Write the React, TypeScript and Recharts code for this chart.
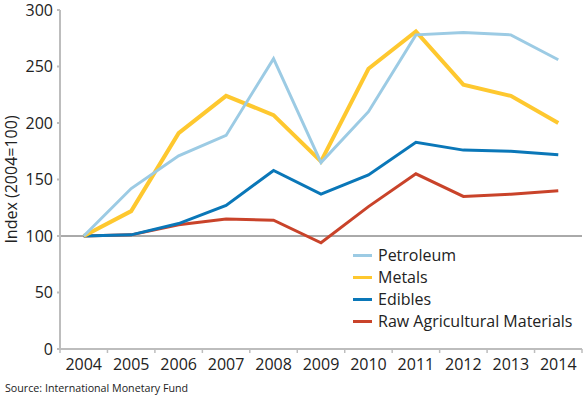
import { LineChart, Line, XAxis, YAxis, ReferenceLine, Legend } from "recharts";

const years = ["2004", "2005", "2006", "2007", "2008", "2009", "2010", "2011", "2012", "2013", "2014"];
const petroleum = [100, 142, 171, 189, 257, 165, 210, 278, 280, 278, 256];
const metals = [100, 122, 191, 224, 207, 166, 248, 281, 234, 224, 200];
const edibles = [100, 101, 111, 127, 158, 137, 154, 183, 176, 175, 172];
const rawAg = [100, 101, 110, 115, 114, 94, 126, 155, 135, 137, 140];
const yTicks = [0, 50, 100, 150, 200, 250, 300];

const series = [
  { key: "petroleum", name: "Petroleum", color: "#9ccbe4" },
  { key: "metals", name: "Metals", color: "#fec82f" },
  { key: "edibles", name: "Edibles", color: "#0a77b8" },
  { key: "rawAg", name: "Raw Agricultural Materials", color: "#c9432a" },
];

const data = years.map((year, i) => ({
  year,
  petroleum: petroleum[i],
  metals: metals[i],
  edibles: edibles[i],
  rawAg: rawAg[i],
}));

const FONT = "'Open Sans', Lato, sans-serif";
const AXIS = "#bdbdbd";

function YearTick(props: any) {
  const { x, y, payload, index, visibleTicksCount, width } = props;
  const half = payload?.offset || width / visibleTicksCount / 2;
  return (
    <g>
      <line x1={x - half} x2={x - half} y1={y - 8} y2={y - 4} stroke={AXIS} strokeWidth={1.5} />
      {index === visibleTicksCount - 1 && (
        <line x1={x + half} x2={x + half} y1={y - 8} y2={y - 4} stroke={AXIS} strokeWidth={1.5} />
      )}
      <text x={x} y={y + 13} textAnchor="middle" fontSize={16} fill="#222" fontFamily={FONT}>
        {payload.value}
      </text>
    </g>
  );
}

function LegendBox() {
  return (
    <div style={{ fontFamily: FONT, fontSize: 16, color: "#222" }}>
      {series.map((s) => (
        <div key={s.key} style={{ display: "flex", alignItems: "center", height: 22 }}>
          <span style={{ display: "inline-block", width: 19, height: 3, background: s.color, marginRight: 6 }} />
          <span>{s.name}</span>
        </div>
      ))}
    </div>
  );
}

export default function App() {
  return (
    <div style={{ position: "absolute", top: 0, left: 0, width: 584, height: 397, background: "#fff" }}>
      <LineChart width={584} height={380} data={data} margin={{ top: 10, right: 2, left: 0, bottom: 0 }}>
        <XAxis
          dataKey="year"
          scale="band"
          interval={0}
          stroke={AXIS}
          strokeWidth={2}
          tickLine={false}
          height={31}
          tick={<YearTick />}
        />
        <YAxis
          domain={[0, 300]}
          ticks={yTicks}
          width={60}
          stroke={AXIS}
          strokeWidth={2}
          tickSize={3}
          tickMargin={4}
          tick={{ fontSize: 16, fill: "#222", fontFamily: FONT }}
          label={{
            value: "Index (2004=100)",
            angle: -90,
            position: "insideLeft",
            offset: 0,
            dx: 11,
            style: { fontSize: 16, fill: "#222", fontFamily: FONT, textAnchor: "middle" },
          }}
        />
        <ReferenceLine y={100} stroke="#555" strokeWidth={1} />
        <Line dataKey="rawAg" stroke="#c9432a" strokeWidth={3} dot={false} isAnimationActive={false} />
        <Line dataKey="edibles" stroke="#0a77b8" strokeWidth={3} dot={false} isAnimationActive={false} />
        <Line dataKey="metals" stroke="#fec82f" strokeWidth={4} dot={false} isAnimationActive={false} />
        <Line dataKey="petroleum" stroke="#9ccbe4" strokeWidth={3} dot={false} isAnimationActive={false} />
        <Legend
          layout="horizontal"
          verticalAlign="middle"
          align="center"
          wrapperStyle={{ left: 353, top: 244, width: "auto" }}
          content={<LegendBox />}
        />
      </LineChart>
      <div
        style={{
          position: "absolute",
          left: 5,
          top: 381,
          fontFamily: FONT,
          fontSize: 10.7,
          color: "#222",
        }}
      >
        Source: International Monetary Fund
      </div>
    </div>
  );
}
